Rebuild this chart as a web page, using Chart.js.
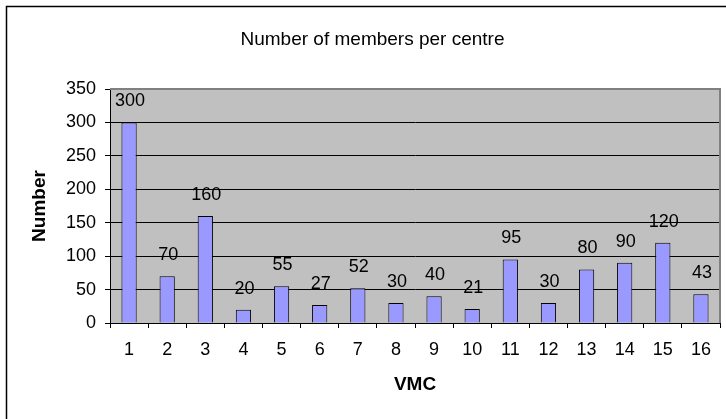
<!DOCTYPE html>
<html>
<head>
<meta charset="utf-8">
<script src="https://cdn.jsdelivr.net/npm/chart.js@4/dist/chart.umd.min.js"></script>
<style>
  body { margin: 0; background: #fff; }
  canvas { display: block; }
</style>
</head>
<body>
<canvas id="vmc-chart" width="726" height="419"></canvas>
<script>
const centres = ['1', '2', '3', '4', '5', '6', '7', '8', '9', '10', '11', '12', '13', '14', '15', '16'];
const members = [300, 70, 160, 20, 55, 27, 52, 30, 40, 21, 95, 30, 80, 90, 120, 43];
const yTicks = [0, 50, 100, 150, 200, 250, 300, 350];

const FONT = '"Liberation Sans", Arial, sans-serif';

// white page, outer frame and grey plot area
const backdrop = {
  id: 'backdrop',
  beforeDraw(chart) {
    const { ctx, chartArea: a } = chart;
    ctx.save();
    ctx.fillStyle = '#fff';
    ctx.fillRect(0, 0, chart.width, chart.height);
    ctx.strokeStyle = '#000';
    ctx.lineWidth = 1.5;
    ctx.strokeRect(6.5, 6.5, chart.width + 20, chart.height + 20);
    ctx.fillStyle = '#C0C0C0';
    ctx.fillRect(a.left, a.top, a.right - a.left, a.bottom - a.top);
    ctx.restore();
  },
  beforeDatasetsDraw(chart) {
    const { ctx, chartArea: a } = chart;
    ctx.save();
    ctx.strokeStyle = '#808080';
    ctx.lineWidth = 2;
    ctx.beginPath();
    ctx.moveTo(a.left, a.top);
    ctx.lineTo(a.right, a.top);
    ctx.lineTo(a.right, a.bottom);
    ctx.stroke();
    ctx.restore();
  }
};

// value labels above each bar
const barLabels = {
  id: 'barLabels',
  afterDatasetsDraw(chart) {
    const { ctx } = chart;
    const meta = chart.getDatasetMeta(0);
    ctx.save();
    ctx.font = '18px ' + FONT;
    ctx.fillStyle = '#000';
    ctx.textAlign = 'center';
    ctx.textBaseline = 'middle';
    meta.data.forEach((bar, i) => {
      ctx.fillText(String(members[i]), bar.x + 1, bar.y - 21);
    });
    ctx.restore();
  }
};

new Chart(document.getElementById('vmc-chart'), {
  type: 'bar',
  data: {
    labels: centres,
    datasets: [{
      data: members,
      backgroundColor: '#9999FF',
      borderColor: '#000',
      borderWidth: 1,
      barPercentage: 0.4,
      categoryPercentage: 1
    }]
  },
  options: {
    responsive: false,
    animation: false,
    layout: { padding: { left: 25, right: 6, top: 0, bottom: 0 } },
    plugins: {
      legend: { display: false },
      tooltip: { enabled: false },
      title: {
        display: true,
        text: 'Number of members per centre',
        color: '#000',
        font: { family: FONT, size: 19, weight: 'normal' },
        padding: { top: 28.6, bottom: 37.6 }
      }
    },
    scales: {
      x: {
        grid: { drawOnChartArea: false, drawTicks: true, tickLength: 5, tickColor: '#000', offset: true },
        border: { color: '#000', width: 1 },
        ticks: { color: '#000', font: { family: FONT, size: 18 }, padding: 11, maxRotation: 0 },
        title: {
          display: true, text: 'VMC', color: '#000',
          font: { family: FONT, size: 19, weight: 'bold' },
          padding: { top: 0, bottom: 22.6 }
        },
        afterFit(scale) { scale.height = 96; }
      },
      y: {
        min: 0,
        max: 350,
        afterBuildTicks(scale) { scale.ticks = yTicks.map(v => ({ value: v })); },
        grid: {
          color: ctx => (ctx.tick && ctx.tick.value === 350 ? '#808080' : '#000'),
          lineWidth: 1,
          tickLength: 5,
          tickColor: '#000'
        },
        border: { color: '#000', width: 1 },
        ticks: { color: '#000', font: { family: FONT, size: 18 }, padding: 9 },
        title: {
          display: true, text: 'Number', color: '#000',
          font: { family: FONT, size: 19, weight: 'bold' },
          padding: { top: 3.6, bottom: 0 }
        },
        afterFit(scale) { scale.width = 85; }
      }
    }
  },
  plugins: [backdrop, barLabels]
});
</script>
</body>
</html>
